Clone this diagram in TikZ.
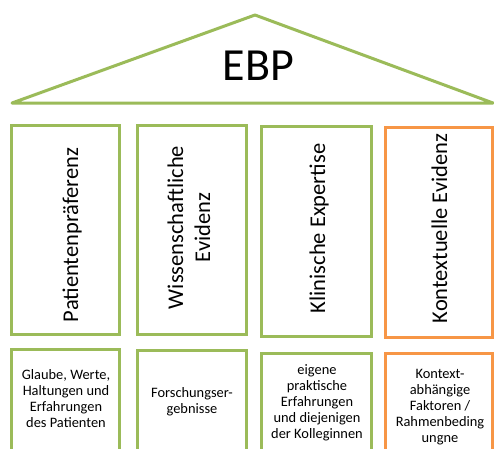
\documentclass[tikz,border=0pt]{standalone}
\usepackage{fontspec}
\setmainfont{Carlito}
\definecolor{ebpgreen}{HTML}{9BBB59}
\definecolor{ebporange}{HTML}{F79646}
\tikzset{
  pillar/.style={draw=ebpgreen, line width=3pt},
  pillarO/.style={draw=ebporange, line width=3pt},
  ptext/.style={rotate=90, anchor=base, inner sep=0pt, font=\fontsize{22.5}{27}\selectfont},
  btext/.style={align=center, anchor=base, inner sep=0pt, font=\fontsize{14.4}{16}\selectfont},
}
\begin{document}
\begin{tikzpicture}[x=1pt,y=-1pt]
\clip (0,0) rectangle (494,448);
\fill[white] (0,0) rectangle (494,448);
% roof
\coordinate (apex) at (255,15);
\coordinate (bl) at (12,103);
\coordinate (br) at (493,103);
\draw[ebpgreen, line width=3pt, line join=round] (bl) -- (apex) -- (br) -- cycle;
\node[anchor=base, inner sep=0pt, font=\fontsize{46}{50}\selectfont] (ebp) at (258.5,80) {EBP};
% pillars
\draw[pillar] (11.5,125) rectangle (119.5,334);
\draw[pillar] (137,125) rectangle (246,334);
\draw[pillar] (261.5,126) rectangle (371.5,336);
\draw[pillarO] (385,127) rectangle (492.5,337);
\node[ptext] (p1) at (78,235) {Patientenpräferenz};
\node[ptext] (p2a) at (183,227.5) {Wissenschaftliche};
\node[ptext] (p2b) at (210,227.5) {Evidenz};
\node[ptext] (p3) at (325,228.5) {Klinische Expertise};
\node[ptext] (p4) at (447,228.5) {Kontextuelle Evidenz};
% bottom boxes
\draw[pillar] (11.5,349) rectangle (119.5,470);
\draw[pillar] (137,350) rectangle (246,470);
\draw[pillar] (261.5,353) rectangle (371.5,470);
\draw[pillarO] (385,353) rectangle (492.5,470);
\node[btext] (b1) at (66,427) {Glaube, Werte,\\Haltungen und\\Erfahrungen\\des Patienten};
\node[btext] (b2) at (192,413) {Forschungser-\\gebnisse};
\node[btext] (b3) at (317,438) {eigene\\praktische\\Erfahrungen\\und diejenigen\\der Kolleginnen};
\node[btext] (b4) at (440,442) {Kontext-\\abhängige\\Faktoren /\\Rahmenbeding\\ungne};
\end{tikzpicture}
\end{document}
